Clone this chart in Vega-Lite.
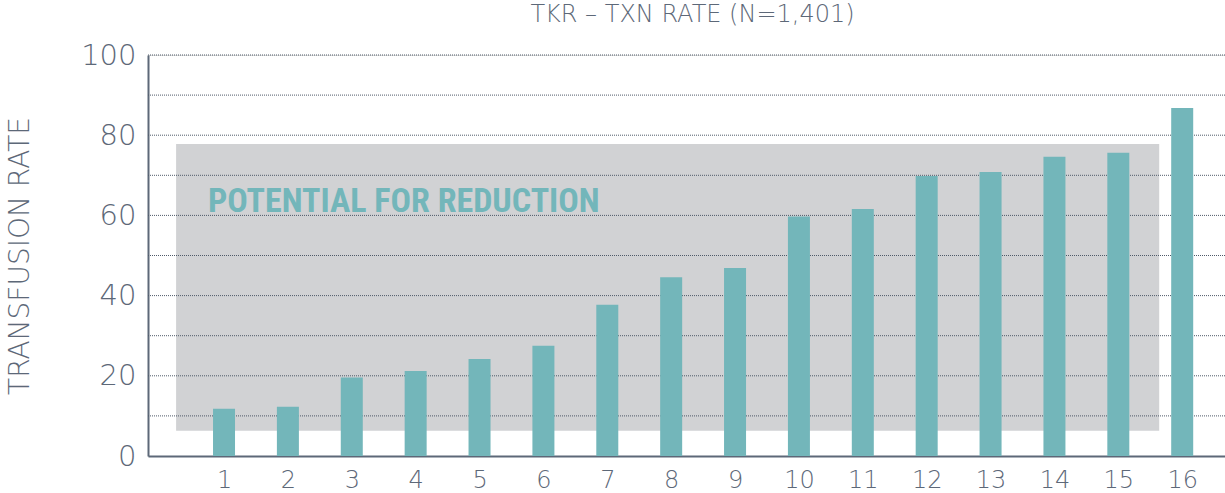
{
  "$schema": "https://vega.github.io/schema/vega-lite/v6.json",
  "width": 1077,
  "height": 401,
  "autosize": {"type": "none"},
  "padding": {"left": 148, "top": 55, "right": 0, "bottom": 37},
  "background": "white",
  "title": {
    "text": "TKR – TXN RATE (N=1,401)",
    "font": "DejaVu Sans",
    "fontWeight": 200,
    "fontSize": 24,
    "color": "#5d6878",
    "anchor": "middle",
    "baseline": "alphabetic",
    "offset": 1,
    "dx": 6,
    "dy": 6
  },
  "datasets": {
    "bars": [
      {"site": 1, "rate": 11.8},
      {"site": 2, "rate": 12.3},
      {"site": 3, "rate": 19.6},
      {"site": 4, "rate": 21.2},
      {"site": 5, "rate": 24.2},
      {"site": 6, "rate": 27.5},
      {"site": 7, "rate": 37.7},
      {"site": 8, "rate": 44.6},
      {"site": 9, "rate": 46.9},
      {"site": 10, "rate": 59.7},
      {"site": 11, "rate": 61.6},
      {"site": 12, "rate": 69.8},
      {"site": 13, "rate": 70.8},
      {"site": 14, "rate": 74.6},
      {"site": 15, "rate": 75.6},
      {"site": 16, "rate": 86.8}
    ],
    "band": [{"x": 0.25, "x2": 15.64, "lo": 6.3, "hi": 77.8}],
    "grid": [{"v": 10}, {"v": 20}, {"v": 30}, {"v": 40}, {"v": 50}, {"v": 60}, {"v": 70}, {"v": 80}, {"v": 90}, {"v": 100}],
    "note": [{"x": 0.75, "y": 60.8, "label": "POTENTIAL FOR REDUCTION"}]
  },
  "layer": [
    {
      "data": {"name": "band"},
      "mark": {"type": "rect", "color": "#d1d2d4"},
      "encoding": {
        "x": {"field": "x", "type": "quantitative", "scale": {"domain": [-0.19, 16.67], "nice": false, "zero": false, "padding": 0},
          "axis": {"values": [1,2,3,4,5,6,7,8,9,10,11,12,13,14,15,16], "format": "d", "title": null, "grid": false, "ticks": false,
            "domainColor": "#5d6878", "domainWidth": 2, "labelFont": "DejaVu Sans", "labelFontWeight": 200, "labelFontSize": 24,
            "labelColor": "#5d6878", "labelPadding": 12}},
        "x2": {"field": "x2"},
        "y": {"field": "lo", "type": "quantitative", "scale": {"domain": [0, 100], "nice": false, "padding": 0},
          "axis": {"values": [0,20,40,60,80,100], "title": "TRANSFUSION RATE", "grid": false, "ticks": false,
            "domainColor": "#5d6878", "domainWidth": 2, "labelFont": "DejaVu Sans", "labelFontWeight": 200, "labelFontSize": 29,
            "labelColor": "#5d6878", "labelPadding": 12, "titleFont": "DejaVu Sans", "titleFontWeight": 200, "titleFontSize": 28,
            "titleColor": "#5d6878", "titlePadding": 46}},
        "y2": {"field": "hi"}
      }
    },
    {
      "data": {"name": "grid"},
      "mark": {"type": "rule", "color": "#4f5a69", "strokeWidth": 1, "strokeDash": [1, 1]},
      "encoding": {"y": {"field": "v", "type": "quantitative"}}
    },
    {
      "data": {"name": "bars"},
      "mark": {"type": "bar", "color": "#73b6ba", "size": 22},
      "encoding": {
        "x": {"field": "site", "type": "quantitative"},
        "y": {"field": "rate", "type": "quantitative"}
      }
    },
    {
      "data": {"name": "note"},
      "mark": {"type": "text", "font": "Roboto Condensed, DejaVu Sans Condensed, DejaVu Sans", "fontWeight": "bold", "fontSize": 34, "color": "#73b6ba", "align": "left", "baseline": "alphabetic"},
      "encoding": {
        "x": {"field": "x", "type": "quantitative"},
        "y": {"field": "y", "type": "quantitative"},
        "text": {"field": "label"}
      }
    }
  ]
}
